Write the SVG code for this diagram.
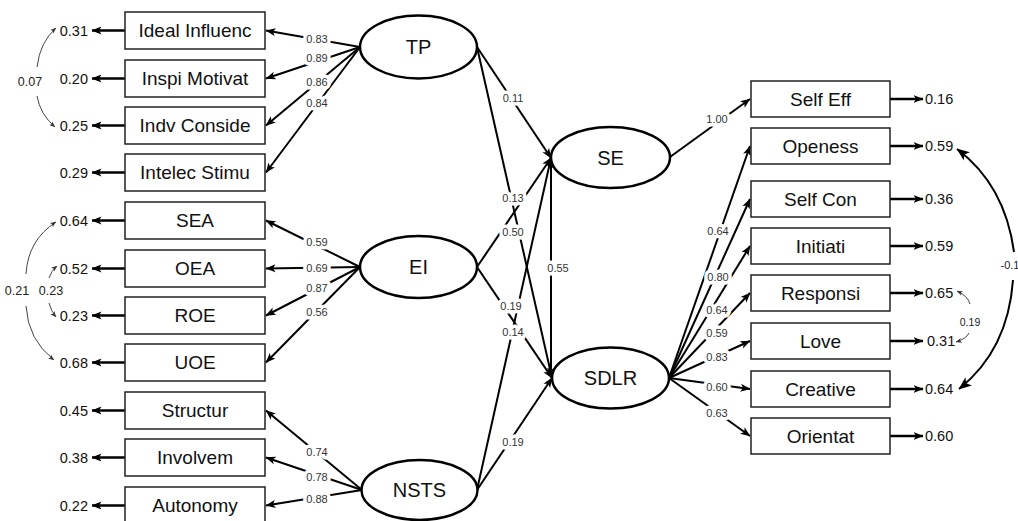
<svg xmlns="http://www.w3.org/2000/svg" width="1018" height="521" viewBox="0 0 1018 521">
<style>
.box{fill:#fff;stroke:#222;stroke-width:1.5}
.lat{fill:#fff;stroke:#000;stroke-width:2.5}
.bt{font-family:"Liberation Sans",Arial,sans-serif;font-size:19px;fill:#111;text-anchor:middle}
.lt{font-family:"Liberation Sans",Arial,sans-serif;font-size:20px;fill:#111;text-anchor:middle}
.ev{font-family:"Liberation Sans",Arial,sans-serif;font-size:14.5px;fill:#111}
.evl{text-anchor:end}
.ln{fill:none;stroke:#000;stroke-width:2;marker-end:url(#ah)}
.er{fill:none;stroke:#000;stroke-width:2.6;marker-end:url(#ah)}
.cv{fill:none;stroke:#444;stroke-width:1;marker-end:url(#ahs)}
.cvb{fill:none;stroke:#000;stroke-width:2;marker-end:url(#ahb)}
.lbl{font-family:"Liberation Sans",Arial,sans-serif;font-size:11px;fill:#333;text-anchor:middle;stroke:#fff;stroke-width:7;stroke-linejoin:round;paint-order:stroke}
.cl{font-family:"Liberation Sans",Arial,sans-serif;font-size:12.5px;fill:#222;text-anchor:middle}
</style>
<defs>
<marker id="ah" viewBox="0 0 10 10" refX="9.5" refY="5" markerWidth="10" markerHeight="10" markerUnits="userSpaceOnUse" orient="auto"><path d="M0,1 L10,5 L0,9 L2.5,5 z" fill="#000"/></marker>
<marker id="ahs" viewBox="0 0 10 10" refX="9.5" refY="5" markerWidth="6" markerHeight="6" markerUnits="userSpaceOnUse" orient="auto"><path d="M0,1 L10,5 L0,9 L2.5,5 z" fill="#333"/></marker>
<marker id="ahb" viewBox="0 0 10 10" refX="9.5" refY="5" markerWidth="13" markerHeight="13" markerUnits="userSpaceOnUse" orient="auto"><path d="M0,1 L10,5 L0,9 L2.5,5 z" fill="#000"/></marker>
</defs>
<rect width="1018" height="521" fill="#fff"/>

<g id="connectors">
<!-- error arrows left -->
<path class="er" d="M125,30.5 H92"/>
<path class="er" d="M125,78.5 H92"/>
<path class="er" d="M125,125.5 H92"/>
<path class="er" d="M125,172.5 H92"/>
<path class="er" d="M125,220.5 H92"/>
<path class="er" d="M125,268.5 H92"/>
<path class="er" d="M125,315.5 H92"/>
<path class="er" d="M125,362.5 H92"/>
<path class="er" d="M125,410.5 H92"/>
<path class="er" d="M125,457.5 H92"/>
<path class="er" d="M125,505.5 H92"/>
<!-- error arrows right -->
<path class="er" d="M890,99 H923"/>
<path class="er" d="M890,146 H923"/>
<path class="er" d="M890,199 H923"/>
<path class="er" d="M890,246 H923"/>
<path class="er" d="M890,293 H923"/>
<path class="er" d="M890,341 H923"/>
<path class="er" d="M890,389 H923"/>
<path class="er" d="M890,436 H923"/>
<!-- TP loadings -->
<path class="ln" d="M360,47 L266,30.5"/>
<path class="ln" d="M360,47 L266,78.5"/>
<path class="ln" d="M360,47 L266,125.5"/>
<path class="ln" d="M360,47 L266,172.5"/>
<!-- EI loadings -->
<path class="ln" d="M360,267 L266,220.5"/>
<path class="ln" d="M360,267 L266,268.5"/>
<path class="ln" d="M360,267 L266,315.5"/>
<path class="ln" d="M360,267 L266,362.5"/>
<!-- NSTS loadings -->
<path class="ln" d="M362,490 L266,410.5"/>
<path class="ln" d="M362,490 L266,457.5"/>
<path class="ln" d="M362,490 L266,505.5"/>
<!-- structural -->
<path class="ln" d="M477,47 L551,158"/>
<path class="ln" d="M477,47 L552,378"/>
<path class="ln" d="M477,267 L551,158"/>
<path class="ln" d="M477,267 L552,378"/>
<path class="ln" d="M477,490 L551,158"/>
<path class="ln" d="M477,490 L552,378"/>
<path class="ln" d="M551,160 L551,377"/>
<path class="ln" d="M670,157 L750,99"/>
<!-- SDLR loadings -->
<path class="ln" d="M669,378 L750,146"/>
<path class="ln" d="M669,378 L750,199"/>
<path class="ln" d="M669,378 L750,246"/>
<path class="ln" d="M669,378 L750,293"/>
<path class="ln" d="M669,378 L750,341"/>
<path class="ln" d="M669,378 L750,389"/>
<path class="ln" d="M669,378 L750,436"/>
<!-- covariances -->
<path class="cv" d="M37,67 Q40,42 56,28"/>
<path class="cv" d="M37,96 Q40,114 55,127"/>
<text class="cl" x="30" y="86">0.07</text>
<path class="cv" d="M26,274 Q28,240 56,222"/>
<path class="cv" d="M26,306 Q28,340 54,360"/>
<text class="cl" x="17" y="295">0.21</text>
<path class="cv" d="M49,278 Q51,271 57,266"/>
<path class="cv" d="M49,303 Q51,311 56,317"/>
<text class="cl" x="51" y="295">0.23</text>
<path class="cvb" d="M1014,252 Q1005,185 957,149"/>
<path class="cvb" d="M1013,280 Q1008,350 959,389"/>
<text class="cl" x="1010" y="269" style="font-size:11px">-0.1</text>
<path class="cv" d="M970,304 Q968,296 957,291"/>
<path class="cv" d="M969,333 Q966,339 956,342"/>
<text class="cl" x="970" y="326" style="font-size:10.5px">0.19</text>
<!-- labels -->
<text class="lbl" x="317" y="43">0.83</text>
<text class="lbl" x="317" y="62">0.89</text>
<text class="lbl" x="317" y="86">0.86</text>
<text class="lbl" x="317" y="107">0.84</text>
<text class="lbl" x="317" y="246">0.59</text>
<text class="lbl" x="317" y="272">0.69</text>
<text class="lbl" x="317" y="292">0.87</text>
<text class="lbl" x="317" y="316">0.56</text>
<text class="lbl" x="317" y="456">0.74</text>
<text class="lbl" x="317" y="481">0.78</text>
<text class="lbl" x="317" y="503">0.88</text>
<text class="lbl" x="513" y="102">0.11</text>
<text class="lbl" x="513" y="202">0.13</text>
<text class="lbl" x="513" y="236">0.50</text>
<text class="lbl" x="511" y="310">0.19</text>
<text class="lbl" x="513" y="336">0.14</text>
<text class="lbl" x="513" y="446">0.19</text>
<text class="lbl" x="558" y="272">0.55</text>
<text class="lbl" x="717" y="123">1.00</text>
<text class="lbl" x="718" y="235">0.64</text>
<text class="lbl" x="718" y="281">0.80</text>
<text class="lbl" x="717" y="314">0.64</text>
<text class="lbl" x="717" y="337">0.59</text>
<text class="lbl" x="717" y="361">0.83</text>
<text class="lbl" x="717" y="391">0.60</text>
<text class="lbl" x="717" y="417">0.63</text>
</g>

<!-- latent nodes -->
<g id="TP"><ellipse class="lat" cx="418.5" cy="47" rx="58.5" ry="31.5"/><text class="lt" x="418.5" y="54">TP</text></g>
<g id="EI"><ellipse class="lat" cx="418.5" cy="267" rx="58.5" ry="31"/><text class="lt" x="418.5" y="274">EI</text></g>
<g id="NSTS"><ellipse class="lat" cx="419.5" cy="490" rx="58" ry="30"/><text class="lt" x="419.5" y="497">NSTS</text></g>
<g id="SE"><ellipse class="lat" cx="610.5" cy="157.5" rx="59.5" ry="30.5"/><text class="lt" x="610.5" y="164.5">SE</text></g>
<g id="SDLR"><ellipse class="lat" cx="610.5" cy="378" rx="58.5" ry="30.5"/><text class="lt" x="610.5" y="385">SDLR</text></g>

<!-- left indicators -->
<g id="IdealInfluenc"><rect class="box" x="125" y="12" width="140" height="37"/><text class="bt" x="195" y="37">Ideal Influenc</text></g>
<g id="InspiMotivat"><rect class="box" x="125" y="60" width="140" height="37"/><text class="bt" x="195" y="85">Inspi Motivat</text></g>
<g id="IndvConside"><rect class="box" x="125" y="107" width="140" height="37"/><text class="bt" x="195" y="132">Indv Conside</text></g>
<g id="IntelecStimu"><rect class="box" x="125" y="154" width="140" height="37"/><text class="bt" x="195" y="179">Intelec Stimu</text></g>
<g id="SEA"><rect class="box" x="125" y="202" width="140" height="37"/><text class="bt" x="195" y="227">SEA</text></g>
<g id="OEA"><rect class="box" x="125" y="250" width="140" height="37"/><text class="bt" x="195" y="275">OEA</text></g>
<g id="ROE"><rect class="box" x="125" y="297" width="140" height="37"/><text class="bt" x="195" y="322">ROE</text></g>
<g id="UOE"><rect class="box" x="125" y="344" width="140" height="37"/><text class="bt" x="195" y="369">UOE</text></g>
<g id="Structur"><rect class="box" x="125" y="392" width="140" height="37"/><text class="bt" x="195" y="417">Structur</text></g>
<g id="Involvem"><rect class="box" x="125" y="439" width="140" height="37"/><text class="bt" x="195" y="464">Involvem</text></g>
<g id="Autonomy"><rect class="box" x="125" y="487" width="140" height="37"/><text class="bt" x="195" y="512">Autonomy</text></g>

<!-- right indicators -->
<g id="SelfEff"><rect class="box" x="751" y="81" width="139" height="36"/><text class="bt" x="820.5" y="105.5">Self Eff</text></g>
<g id="Openess"><rect class="box" x="751" y="128" width="139" height="36"/><text class="bt" x="820.5" y="152.5">Openess</text></g>
<g id="SelfCon"><rect class="box" x="751" y="181" width="139" height="36"/><text class="bt" x="820.5" y="205.5">Self Con</text></g>
<g id="Initiati"><rect class="box" x="751" y="228" width="139" height="36"/><text class="bt" x="820.5" y="252.5">Initiati</text></g>
<g id="Responsi"><rect class="box" x="751" y="275" width="139" height="36"/><text class="bt" x="820.5" y="299.5">Responsi</text></g>
<g id="Love"><rect class="box" x="751" y="323" width="139" height="36"/><text class="bt" x="820.5" y="347.5">Love</text></g>
<g id="Creative"><rect class="box" x="751" y="371" width="139" height="36"/><text class="bt" x="820.5" y="395.5">Creative</text></g>
<g id="Orientat"><rect class="box" x="751" y="418" width="139" height="36"/><text class="bt" x="820.5" y="442.5">Orientat</text></g>

<!-- error values -->
<g id="errors-left">
<text class="ev evl" x="88" y="35.5">0.31</text>
<text class="ev evl" x="88" y="83.5">0.20</text>
<text class="ev evl" x="88" y="130.5">0.25</text>
<text class="ev evl" x="88" y="177.5">0.29</text>
<text class="ev evl" x="88" y="225.5">0.64</text>
<text class="ev evl" x="88" y="273.5">0.52</text>
<text class="ev evl" x="88" y="320.5">0.23</text>
<text class="ev evl" x="88" y="367.5">0.68</text>
<text class="ev evl" x="88" y="415.5">0.45</text>
<text class="ev evl" x="88" y="462.5">0.38</text>
<text class="ev evl" x="88" y="510.5">0.22</text>
</g>
<g id="errors-right">
<text class="ev" x="925" y="104">0.16</text>
<text class="ev" x="925" y="151">0.59</text>
<text class="ev" x="925" y="204">0.36</text>
<text class="ev" x="925" y="251">0.59</text>
<text class="ev" x="925" y="298">0.65</text>
<text class="ev" x="927" y="346">0.31</text>
<text class="ev" x="925" y="394">0.64</text>
<text class="ev" x="925" y="441">0.60</text>
</g>
</svg>
